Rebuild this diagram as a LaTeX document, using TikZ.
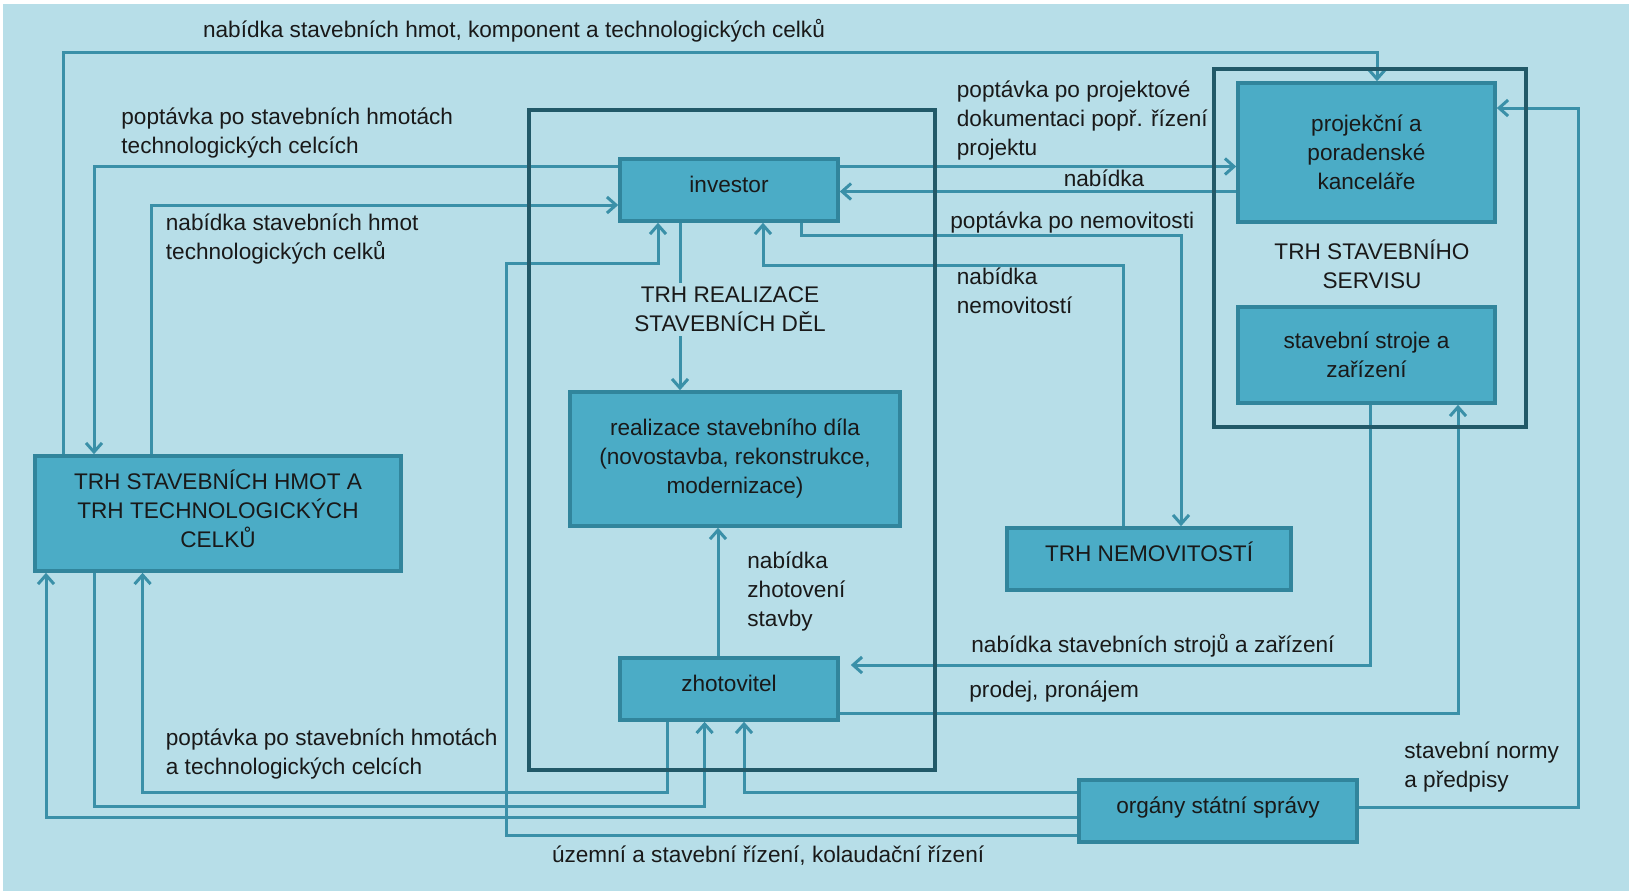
\documentclass[tikz,border=0pt]{standalone}
\usepackage{fontspec}
\setmainfont{Liberation Sans}
\usetikzlibrary{arrows.meta}

\definecolor{bgblue}{HTML}{B7DEE8}
\definecolor{boxfill}{HTML}{4BACC6}
\definecolor{boxline}{HTML}{31859C}
\definecolor{arrowc}{HTML}{3A90A8}
\definecolor{framec}{HTML}{215968}

\begin{document}
\begin{tikzpicture}[x=0.5pt,y=-0.5pt,
  every node/.style={font=\fontsize{11.3}{14.5}\selectfont,text=black!90},
  box/.style={draw=boxline,fill=boxfill,line width=1.8pt,align=center},
  onebox/.style={box,text height=8pt,text depth=6pt},
  lbl/.style={anchor=west,align=left,inner sep=0pt},
  arr/.style={draw=arrowc,line width=1.5pt,-{Straight Barb[length=4.5pt,width=8pt]}},
  frame/.style={draw=framec,line width=1.8pt}]
  \useasboundingbox (0,0) rectangle (1632,891);
  \fill[white] (0,0) rectangle (1632,891);
  \fill[bgblue] (2.5,4) rectangle (1629,891);

	% boxes
	\node[onebox,minimum width=109pt,minimum height=31pt] (investor) at (729,190) {investor};
	\node[box,minimum width=165pt,minimum height=67pt] (realizace) at (735,459) {realizace stavebního díla\\(novostavba, rekonstrukce,\\modernizace)};
	\node[onebox,minimum width=109pt,minimum height=31pt] (zhotovitel) at (729,689) {zhotovitel};
	\node[box,text depth=5pt,minimum width=183pt,minimum height=57.5pt] (hmot) at (218,513.5) {TRH STAVEBNÍCH HMOT A\\TRH TECHNOLOGICKÝCH\\CELKŮ};
	\node[onebox,minimum width=142pt,minimum height=31pt] (nemovitosti) at (1149,559) {TRH NEMOVITOSTÍ};
	\node[box,minimum width=128.5pt,minimum height=69.5pt] (projekcni) at (1366.5,152.5) {projekční a\\poradenské\\kanceláře};
	\node[box,minimum width=128.5pt,minimum height=48pt] (stroje) at (1366.5,355) {stavební stroje a\\zařízení};
	\node[onebox,minimum width=139pt,minimum height=31pt] (organy) at (1218,811) {orgány státní správy};

	% connectors
	\draw[arr] (63.5,0 |- hmot.north) -- (63.5,52) -| (1377,0 |- projekcni.north);
	\draw[arr] (investor.west |- 0,166.5) -| (94,0 |- hmot.north);
	\draw[arr] (151,0 |- hmot.north) |- (investor.west |- 0,205);
	\draw[arr] (680,0 |- investor.south) -- (680,0 |- realizace.north);
	\draw[arr] (investor.east |- 0,166.5) -- (projekcni.west |- 0,166.5);
	\draw[arr] (projekcni.west |- 0,191.5) -- (investor.east |- 0,191.5);
	\draw[arr] (801.5,0 |- investor.south) |- (1181,235) -- (1181,0 |- nemovitosti.north);
	\draw[arr] (1123,0 |- nemovitosti.north) |- (763,265) -- (763,0 |- investor.south);
	\draw[arr] (718,0 |- zhotovitel.north) -- (718,0 |- realizace.south);
	\draw[arr,shorten >=5.5pt] (1370,0 |- stroje.south) |- (zhotovitel.east |- 0,665);
	\draw[arr] (zhotovitel.east |- 0,713) -| (1458,0 |- stroje.south);
	\draw[arr] (organy.east |- 0,807) -| (1578,108) -- (projekcni.east |- 0,108);
	\draw[arr] (organy.west |- 0,792) -| (744,0 |- zhotovitel.south);
	\draw[arr] (organy.west |- 0,817) -| (46,0 |- hmot.south);
	\draw[arr] (organy.west |- 0,835) -| (506,263) -| (658,0 |- investor.south);
	\draw[arr] (667,0 |- zhotovitel.south) |- (142.6,792) -- (142.6,0 |- hmot.south);
	\draw[arr] (94,0 |- hmot.south) |- (704.6,806) -- (704.6,0 |- zhotovitel.south);

	% market frames
	\draw[frame] (529,110) rectangle (935,770);
	\draw[frame] (1214,69) rectangle (1526,427);
	\node[fill=bgblue,align=center,inner sep=2pt] (realtrh) at (730,309) {TRH REALIZACE\\STAVEBNÍCH DĚL};
	\node[align=center] (servistrh) at (1372,264.5) {TRH STAVEBNÍHO\\SERVISU};

	% labels
	\node (topl) at (514,31) {nabídka stavebních hmot, komponent a technologických celků};
	\node[lbl] (hmotpopl) at (121,133) {poptávka po stavebních hmotách\\technologických celcích};
	\node[lbl] (hmotnabl) at (165.5,239) {nabídka stavebních hmot\\technologických celků};
	\node[lbl] (projpopl) at (956.5,121) {poptávka po projektové\\dokumentaci popř. řízení\\projektu};
	\node (projnabl) at (1104,178) {nabídka};
	\node[lbl] (nempopl) at (950,223) {poptávka po nemovitosti};
	\node[lbl] (nemnabl) at (956.5,291) {nabídka\\nemovitostí};
	\node[lbl] (zhotl) at (747,592) {nabídka\\zhotovení\\stavby};
	\node[lbl] (strojl) at (971,646) {nabídka stavebních strojů a zařízení};
	\node[lbl] (prodl) at (969,692) {prodej, pronájem};
	\node[lbl] (normyl) at (1404,767) {stavební normy\\a předpisy};
	\node[lbl] (rizenil) at (551.6,855.5) {územní a stavební řízení, kolaudační řízení};
	\node[lbl] (zhotpopl) at (165.5,754.5) {poptávka po stavebních hmotách\\a technologických celcích};
\end{tikzpicture}
\end{document}
